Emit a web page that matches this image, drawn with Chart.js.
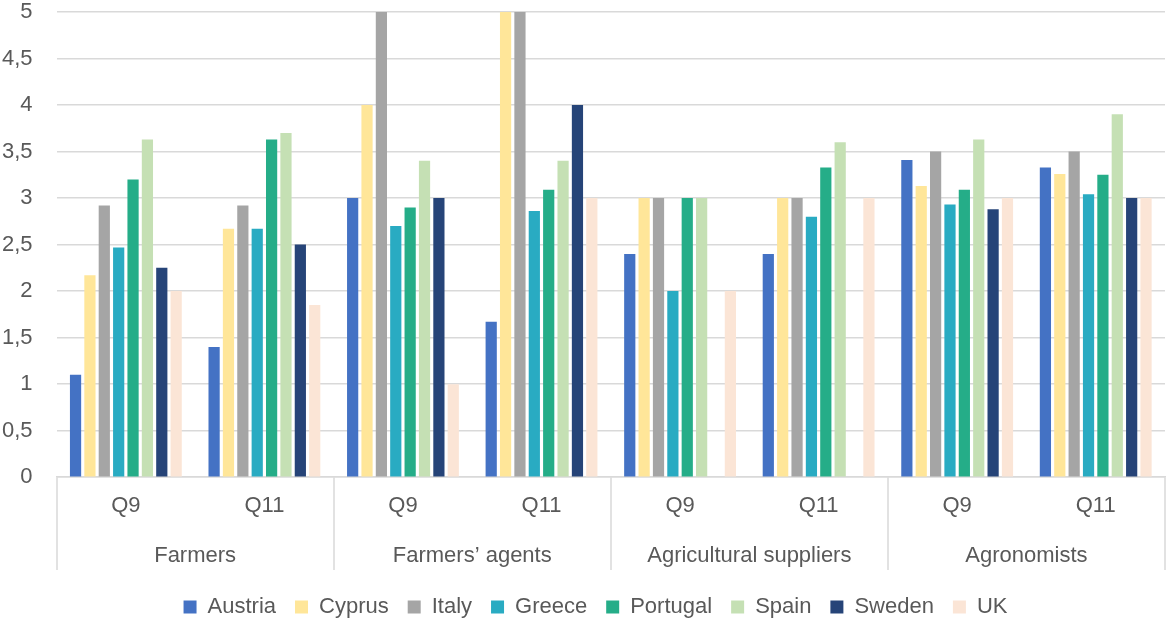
<!DOCTYPE html>
<html>
<head>
<meta charset="utf-8">
<script src="https://cdn.jsdelivr.net/npm/chart.js@4/dist/chart.umd.min.js"></script>
<style>
body { margin: 0; background: #fff; overflow: hidden; }
#wrap { width: 1169px; height: 618px; }
</style>
</head>
<body>
<div id="wrap"><canvas id="myChart"></canvas></div>
<script>
const groups = ["Farmers", "Farmers’ agents", "Agricultural suppliers", "Agronomists"];
const questions = ["Q9", "Q11", "Q9", "Q11", "Q9", "Q11", "Q9", "Q11"];
const yTicks = [0, 0.5, 1, 1.5, 2, 2.5, 3, 3.5, 4, 4.5, 5];

const countries = ["Austria", "Cyprus", "Italy", "Greece", "Portugal", "Spain", "Sweden", "UK"];
const austria  = [1.1, 1.4, 3, 1.67, 2.4, 2.4, 3.41, 3.33];
const cyprus   = [2.17, 2.67, 4, 5, 3, 3, 3.13, 3.26];
const italy    = [2.92, 2.92, 5, 5, 3, 3, 3.5, 3.5];
const greece   = [2.47, 2.67, 2.7, 2.86, 2, 2.8, 2.93, 3.04];
const portugal = [3.2, 3.63, 2.9, 3.09, 3, 3.33, 3.09, 3.25];
const spain    = [3.63, 3.7, 3.4, 3.4, 3, 3.6, 3.63, 3.9];
const sweden   = [2.25, 2.5, 3, 4, null, null, 2.88, 3];
const uk       = [2, 1.85, 1, 3, 2, 3, 3, 3];

const seriesValues = [austria, cyprus, italy, greece, portugal, spain, sweden, uk];
const barColors = ["#4472C4", "#FFE699", "#A5A5A5", "#29ABC2", "#25AD88", "#C5E0B4", "#264478", "#FBE5D6"];

const textColor = "#595959";
const lineColor = "#d9d9d9";
const fontFamily = "'Liberation Sans', Arial, sans-serif";

// vertical separators between the groups, under the axis
const separators = {
    id: 'separators',
    afterLayout(chart) {
        // legend sits a bit right of centre in the original
        chart.legend.left += 12;
        chart.legend.right += 12;
    },
    afterDraw(chart) {
        const x = chart.scales.x;
        const x2 = chart.scales.x2;
        const ctx = chart.ctx;
        const step = (x.right - x.left) / groups.length;
        ctx.save();
        ctx.strokeStyle = lineColor;
        ctx.lineWidth = 1.5;
        for (let i = 0; i <= groups.length; i++) {
            const px = Math.round(x.left + step * i);
            ctx.beginPath();
            ctx.moveTo(px, chart.chartArea.bottom);
            ctx.lineTo(px, x2.bottom - 7);
            ctx.stroke();
        }
        ctx.restore();
    }
};

const noSidePadding = scale => { scale.paddingLeft = 0; scale.paddingRight = 0; };

const datasets = countries.map((name, i) => ({
    label: name,
    data: seriesValues[i],
    backgroundColor: barColors[i],
    categoryPercentage: 0.83,
    barPercentage: 0.78
}));

new Chart("myChart", {
    type: "bar",
    data: {
        labels: questions,
        datasets: datasets
    },
    plugins: [separators],
    options: {
        responsive: true,
        maintainAspectRatio: false,
        animation: false,
        layout: { padding: { top: 0, right: 4, left: 2, bottom: -10 } },
        plugins: {
            legend: {
                position: "bottom",
                labels: {
                    color: textColor,
                    font: { family: fontFamily, size: 22 },
                    boxWidth: 13,
                    boxHeight: 13,
                    padding: 19
                }
            },
            tooltip: { enabled: false }
        },
        scales: {
            y: {
                min: 0,
                max: 5,
                afterBuildTicks: axis => { axis.ticks = yTicks.map(v => ({ value: v })); },
                afterFit: scale => {
                    scale.paddingTop = 12;
                    scale.paddingBottom = 0;
                    scale.width -= 24;
                },
                ticks: {
                    color: textColor,
                    font: { family: fontFamily, size: 22 },
                    padding: 24,
                    callback: v => String(v).replace('.', ',')
                },
                grid: { color: lineColor, lineWidth: 1.5, drawTicks: false },
                border: { display: false }
            },
            x: {
                afterFit: noSidePadding,
                grid: { display: false, drawTicks: false },
                border: { display: true, color: lineColor, width: 1.5 },
                ticks: {
                    color: textColor,
                    font: { family: fontFamily, size: 22 },
                    padding: 16,
                    maxRotation: 0
                }
            },
            x2: {
                type: "category",
                labels: groups,
                position: "bottom",
                offset: true,
                afterFit: noSidePadding,
                grid: { display: false, drawTicks: false },
                border: { display: false },
                ticks: {
                    color: textColor,
                    font: { family: fontFamily, size: 22 },
                    padding: 7.5,
                    maxRotation: 0
                }
            }
        }
    }
});
</script>
</body>
</html>
